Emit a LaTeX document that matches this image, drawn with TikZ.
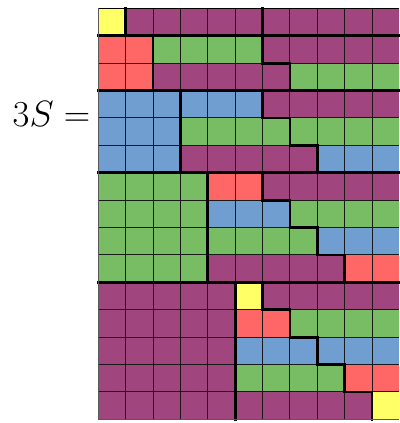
\RequirePackage{fix-cm}
\documentclass[tikz,border=0pt]{standalone}
\definecolor{cY}{RGB}{255,255,102}
\definecolor{cR}{RGB}{255,102,102}
\definecolor{cG}{RGB}{120,188,100}
\definecolor{cB}{RGB}{112,158,208}
\definecolor{cP}{RGB}{160,69,126}
\begin{document}
\begin{tikzpicture}[x=27.37pt,y=-27.4pt,
  thinline/.style={black!90,line width=0.9pt},
  thickline/.style={black,line width=2.8pt,line cap=rect},
  borderline/.style={black!65,line width=1.4pt},
  lbl/.style={inner sep=0pt,font=\fontsize{36.6}{40}\selectfont}]
\useasboundingbox (-3.593,-0.303) rectangle (11,15.135);
% cell segments: row/start/width/colour
\foreach \r/\s/\w/\c in {
 0/0/1/cY, 0/1/5/cP, 0/6/5/cP,
 1/0/2/cR, 1/2/4/cG, 1/6/5/cP,
 2/0/2/cR, 2/2/5/cP, 2/7/4/cG,
 3/0/3/cB, 3/3/3/cB, 3/6/5/cP,
 4/0/3/cB, 4/3/4/cG, 4/7/4/cG,
 5/0/3/cB, 5/3/5/cP, 5/8/3/cB,
 6/0/4/cG, 6/4/2/cR, 6/6/5/cP,
 7/0/4/cG, 7/4/3/cB, 7/7/4/cG,
 8/0/4/cG, 8/4/4/cG, 8/8/3/cB,
 9/0/4/cG, 9/4/5/cP, 9/9/2/cR,
 10/0/5/cP, 10/5/1/cY, 10/6/5/cP,
 11/0/5/cP, 11/5/2/cR, 11/7/4/cG,
 12/0/5/cP, 12/5/3/cB, 12/8/3/cB,
 13/0/5/cP, 13/5/4/cG, 13/9/2/cR,
 14/0/5/cP, 14/5/5/cP, 14/10/1/cY}
 \fill[\c] (\s,\r) rectangle ++(\w,1);
% thin grid
\foreach \i in {1,...,14} \draw[thinline] (0,\i) -- (11,\i);
\foreach \j in {1,...,10} \draw[thinline] (\j,0) -- (\j,15);
% thick group separators
\foreach \i in {1,3,6,10} \draw[thickline] (0,\i) -- (11,\i);
% first-block verticals
\draw[thickline] (1,0) -- (1,1);
\draw[thickline] (2,1) -- (2,3);
\draw[thickline] (3,3) -- (3,6);
\draw[thickline] (4,6) -- (4,10);
\draw[thickline] (5,10) -- (5,15);
% staircases
\draw[thickline] (6,0) -- (6,1);
\draw[thickline] (6,1) -- (6,2) -- (7,2) -- (7,3);
\draw[thickline] (6,3) -- (6,4) -- (7,4) -- (7,5) -- (8,5) -- (8,6);
\draw[thickline] (6,6) -- (6,7) -- (7,7) -- (7,8) -- (8,8) -- (8,9) -- (9,9) -- (9,10);
\draw[thickline] (6,10) -- (6,11) -- (7,11) -- (7,12) -- (8,12) -- (8,13) -- (9,13) -- (9,14) -- (10,14) -- (10,15);
% outer border
\draw[black,line width=1.2pt] (0,0) -- (11,0);
\draw[borderline] (0,0) -- (0,15) -- (11,15);
% label
\node[lbl,anchor=base east] (eq) at (-0.29,4.33) {$3S=$};
\end{tikzpicture}
\end{document}
